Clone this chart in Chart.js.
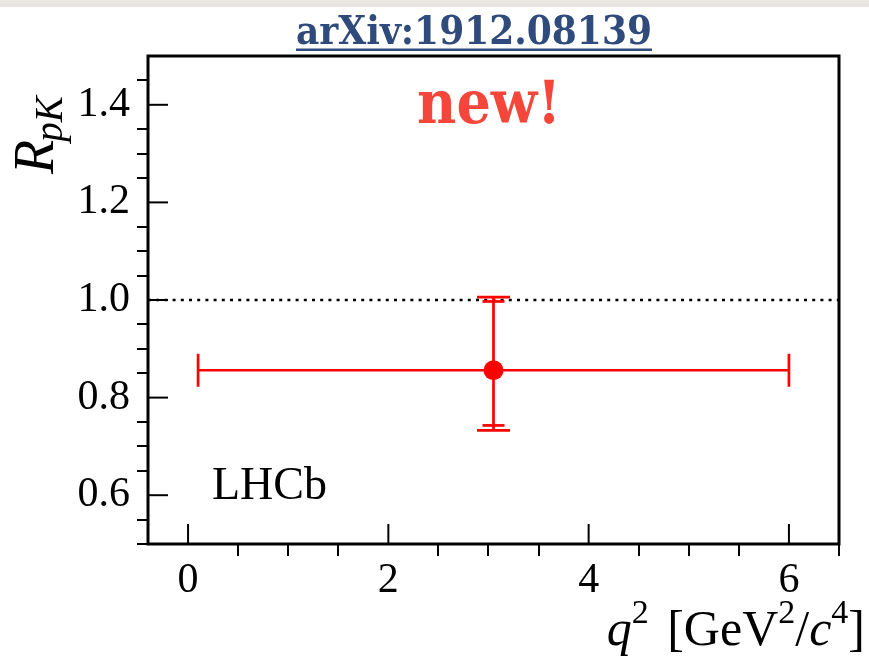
<!DOCTYPE html>
<html>
<head>
<meta charset="utf-8">
<script src="https://cdn.jsdelivr.net/npm/chart.js@4/dist/chart.umd.min.js"></script>
<style>
  html, body { margin: 0; padding: 0; }
  body { background: linear-gradient(#ebe8e3 0, #e6e3de 7px, #ffffff 7px); width: 869px; height: 665px; }
  #wrap { position: relative; width: 869px; height: 665px; }
</style>
</head>
<body>
<div id="wrap"><canvas id="rpk" width="869" height="665"></canvas></div>
<script>
// LHCb R_pK measurement, one q^2 bin
const qLow = [0.1];
const qHigh = [6.0];
const qCentre = [3.05];
const rpk = [0.856];
const statUp = [0.141];
const statDown = [0.113];
const totUp = [0.150];
const totDown = [0.123];

const refLine = 1.0;
const xMajorTicks = [0, 2, 4, 6];
const yMajorTicks = [0.6, 0.8, 1.0, 1.2, 1.4];

const serif = "'Liberation Serif', 'Times New Roman', serif";
const isMajor = (v, list) => list.some(m => Math.abs(m - v) < 1e-6);

const overlay = {
  id: 'overlay',
  beforeDatasetsDraw(chart) {
    const { ctx, chartArea: a, scales: { x, y } } = chart;
    const seg = (x1, y1, x2, y2) => { ctx.beginPath(); ctx.moveTo(x1, y1); ctx.lineTo(x2, y2); ctx.stroke(); };

    // dotted line at R = 1
    ctx.save();
    ctx.strokeStyle = '#000';
    ctx.lineWidth = 2.5;
    ctx.setLineDash([3, 5.2]);
    const yr = y.getPixelForValue(refLine);
    seg(a.left, yr, a.right, yr);
    ctx.restore();

    // error bars: horizontal bin width, stat (short caps) and total (long caps)
    ctx.save();
    ctx.strokeStyle = '#ff0000';
    ctx.lineWidth = 2.7;
    for (let i = 0; i < rpk.length; i++) {
      const py = y.getPixelForValue(rpk[i]);
      const px = x.getPixelForValue(qCentre[i]);
      const xl = x.getPixelForValue(qLow[i]);
      const xh = x.getPixelForValue(qHigh[i]);
      seg(xl, py, xh, py);
      seg(xl, py - 16.5, xl, py + 16.5);
      seg(xh, py - 16.5, xh, py + 16.5);
      const tU = y.getPixelForValue(rpk[i] + totUp[i]);
      const tD = y.getPixelForValue(rpk[i] - totDown[i]);
      const sU = y.getPixelForValue(rpk[i] + statUp[i]);
      const sD = y.getPixelForValue(rpk[i] - statDown[i]);
      seg(px, tU, px, tD);
      seg(px - 16.5, tU, px + 16.5, tU);
      seg(px - 16.5, tD, px + 16.5, tD);
      seg(px - 11, sU, px + 11, sU);
      seg(px - 11, sD, px + 11, sD);
    }
    ctx.restore();
  },
  afterDraw(chart) {
    const { ctx, chartArea: a, scales: { x, y } } = chart;
    const seg = (x1, y1, x2, y2) => { ctx.beginPath(); ctx.moveTo(x1, y1); ctx.lineTo(x2, y2); ctx.stroke(); };
    ctx.save();

    // frame
    ctx.strokeStyle = '#000';
    ctx.lineWidth = 3;
    ctx.strokeRect(a.left, a.top, a.right - a.left, a.bottom - a.top);

    // major ticks point inwards
    ctx.lineWidth = 2;
    yMajorTicks.forEach(v => { const p = y.getPixelForValue(v); seg(a.left, p, a.left + 20, p); });
    xMajorTicks.forEach(v => { const p = x.getPixelForValue(v); seg(p, a.bottom, p, a.bottom - 20); });

    // header
    ctx.fillStyle = '#2f4b7c';
    ctx.font = "bold 40px 'DejaVu Serif Condensed', 'DejaVu Serif', serif";
    ctx.textAlign = 'center';
    ctx.textBaseline = 'alphabetic';
    const head = 'arXiv:1912.08139';
    const hw = ctx.measureText(head).width;
    ctx.fillText(head, 474, 44);
    ctx.fillRect(474 - hw / 2, 48.5, hw, 2.5);

    ctx.fillStyle = '#f4463a';
    ctx.font = "bold 60px 'DejaVu Serif Condensed', 'DejaVu Serif', serif";
    ctx.fillText('new!', 489, 123);

    ctx.fillStyle = '#000';
    ctx.textAlign = 'left';
    ctx.font = '46px ' + serif;
    ctx.fillText('LHCb', 212, 499);

    // y title R_pK, rotated
    ctx.save();
    ctx.translate(53, 174);
    ctx.rotate(-Math.PI / 2);
    ctx.font = 'italic 56px ' + serif;
    ctx.fillText('R', 0, 0);
    const rw = ctx.measureText('R').width;
    ctx.font = 'italic 39px ' + serif;
    ctx.fillText('pK', rw - 2, 9);
    ctx.restore();

    // x title q^2 [GeV^2/c^4], right aligned
    const parts = [
      ['q', 'italic 50px', 0], ['2', '34px', -22], [' ', '50px', 0], ['[GeV', '50px', 0],
      ['2', '34px', -22], ['/', '50px', 0], ['c', 'italic 50px', 0], ['4', '34px', -22], [']', '50px', 0]
    ];
    let total = 0;
    parts.forEach(p => { ctx.font = p[1] + ' ' + serif; total += ctx.measureText(p[0]).width + (p[0] === ' ' ? 6 : 0); });
    let cx = 865 - total;
    parts.forEach(p => {
      ctx.font = p[1] + ' ' + serif;
      ctx.fillText(p[0], cx, 645 + p[2]);
      cx += ctx.measureText(p[0]).width + (p[0] === ' ' ? 6 : 0);
    });

    ctx.restore();
  }
};

new Chart(document.getElementById('rpk'), {
  type: 'scatter',
  data: {
    datasets: [{
      data: qCentre.map((q, i) => ({ x: q, y: rpk[i] })),
      pointRadius: 10,
      pointHoverRadius: 10,
      backgroundColor: '#ff0000',
      borderColor: '#ff0000',
      borderWidth: 0,
    }],
  },
  options: {
    responsive: false,
    animation: false,
    events: [],
    layout: { padding: { top: 56, right: 30, left: 0, bottom: 0 } },
    plugins: {
      legend: { display: false },
      tooltip: { enabled: false },
    },
    scales: {
      x: {
        type: 'linear',
        min: -0.4,
        max: 6.5,
        afterFit: (s) => { s.height = 121; },
        border: { display: false },
        grid: {
          drawOnChartArea: false,
          tickLength: 12,
          lineWidth: 2,
          color: (c) => isMajor(c.tick.value, xMajorTicks) ? 'rgba(0,0,0,0)' : '#000',
        },
        ticks: {
          stepSize: 0.5,
          includeBounds: false,
          autoSkip: false,
          maxRotation: 0,
          padding: 0,
          color: '#000',
          font: { family: serif, size: 42 },
          callback: (v) => isMajor(v, xMajorTicks) ? String(v) : '',
        },
      },
      y: {
        type: 'linear',
        min: 0.5,
        max: 1.5,
        afterFit: (s) => { s.width = 148; },
        border: { display: false },
        grid: {
          drawOnChartArea: false,
          tickLength: 11,
          lineWidth: 2,
          color: (c) => (isMajor(c.tick.value, yMajorTicks) || c.tick.value > 1.49) ? 'rgba(0,0,0,0)' : '#000',
        },
        ticks: {
          stepSize: 0.05,
          autoSkip: false,
          padding: 7,
          color: '#000',
          font: { family: serif, size: 42 },
          callback: (v) => isMajor(v, yMajorTicks) ? v.toFixed(1) : '',
        },
      },
    },
  },
  plugins: [overlay],
});
</script>
</body>
</html>
